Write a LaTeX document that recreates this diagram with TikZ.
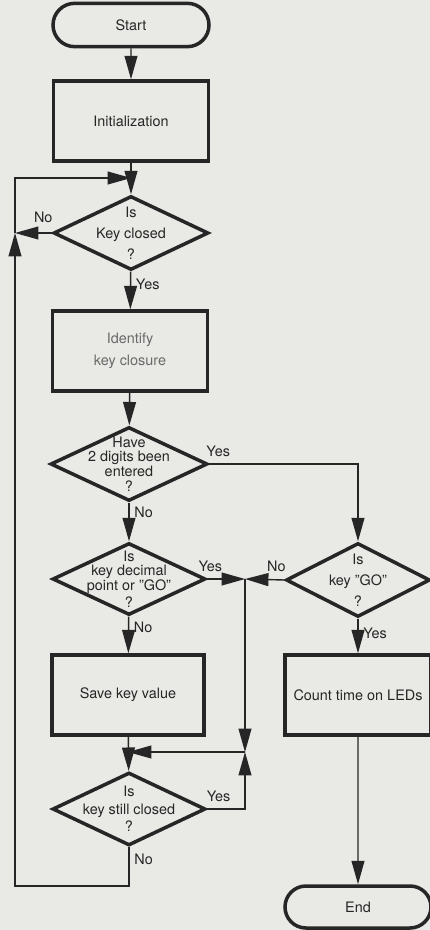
\documentclass[tikz,border=0pt]{standalone}
\usepackage{fontspec}
\setmainfont{TeX Gyre Heros}
\definecolor{paper}{RGB}{233,233,230}
\definecolor{ink}{RGB}{38,38,38}
\definecolor{faded}{RGB}{105,105,105}
\usetikzlibrary{shapes,arrows.meta,positioning,calc}

\tikzset{
  terminal/.style={rounded rectangle, draw, line width=3pt, minimum width=4.68cm, minimum height=1.3cm, inner sep=0pt},
  process/.style={rectangle, draw, line width=3pt, minimum width=4.65cm, minimum height=2.4cm, align=center, inner sep=0pt},
  decision/.style={diamond, draw, line width=3pt, minimum width=4.65cm, minimum height=2.22cm, inner sep=0pt},
  qtext/.style={align=center, text=ink, font=\fontsize{12.3}{18}\selectfont},
  qtight/.style={qtext, font=\fontsize{12.3}{12.5}\selectfont},
  flow/.style={line width=1.2pt, -{Triangle[length=20pt,width=11pt]}},
  tag/.style={inner sep=4pt}
}

\begin{document}
\begin{tikzpicture}[x=0.03cm, y=-0.03cm, color=ink, font=\fontsize{12.3}{18}\selectfont]
  \fill[paper] (0,0) rectangle (430,930);
  \useasboundingbox (0,0) rectangle (430,930);

  % left column
  \node[terminal] (start) at (131,25) {Start};
  \node[process] (init) at (131,121) {Initialization};
  \node[decision, label={[qtext]center:{Is\\Key closed\\?}}] (closed) at (131,233) {};
  \node[process, text=faded, font=\fontsize{12.3}{19}\selectfont] (ident) at (130,351) {Identify\\key closure};
  \node[decision, minimum width=4.71cm, label={[qtight]center:{Have\\2 digits been\\entered\\?}}] (digits) at (129,464) {};
  \node[decision, minimum width=4.59cm, minimum height=2.16cm, label={[qtight]center:{Is\\key decimal\\point or ''GO''\\[2pt]?}}] (decimal) at (129,579) {};
  \node[process, minimum width=4.56cm] (save) at (128,695) {Save key value};
  \node[decision, minimum width=4.59cm, minimum height=2.19cm, label={[qtext, font=\fontsize{12.3}{15}\selectfont]center:{Is\\key still closed\\?}}] (still) at (129,809) {};

  % right column
  \node[decision, minimum width=4.32cm, label={[qtext]center:{Is\\key ''GO''\\?}}] (go) at (358,580) {};
  \node[process, minimum width=4.38cm] (led) at (358,695) {Count time on LEDs};
  \node[terminal, minimum width=4.38cm, minimum height=1.26cm] (end) at (358,907) {End};

  \coordinate (loopL) at (15,233);
  \coordinate (loopT) at (15,178);
  \coordinate (loopB) at (15,886);
  \coordinate (merge) at (245,579);
  \coordinate (join) at (245,752);

  % connectors
  \draw[flow] (start) -- (init);
  \draw[flow] (init) -- (closed);
  \draw[flow] (loopL) -- (loopT) -- (closed.north |- loopT);
  \draw[flow] (closed.west) -- node[tag, above, pos=0.23, yshift=4pt]{No} (loopL);
  \draw[flow] (closed) -- node[tag, right, pos=0.35]{Yes} (ident);
  \draw[flow] (ident) -- (digits);
  \draw[flow] (digits.east) -| node[tag, above, pos=0.03, yshift=2pt]{Yes} (go.north);
  \draw[flow] (digits) -- node[tag, right, pos=0.25]{No} (decimal);
  \draw[flow] (decimal) -- node[tag, right, pos=0.3]{No} (save);
  \draw[flow] (decimal.east) -- node[tag, above, pos=0.08, yshift=2pt]{Yes} (merge);
  \draw[flow] (go.west) -- node[tag, above, pos=0.2, yshift=2pt]{No} (merge);
  \draw[flow] (merge) -- (join);
  \draw[flow] (join) -- (save.south |- join);
  \draw[flow] (save) -- (still);
  \draw[flow] (still.east) -| node[tag, above, pos=0.15, yshift=2pt]{Yes} (join);
  \draw[flow] (go) -- node[tag, right, pos=0.42]{Yes} (led);
  \draw[flow] (led) -- (end);
  \draw[flow] (still.south) -- node[tag, right, pos=0.3]{No} (still.south |- loopB) -- (loopB) -- (loopL);
\end{tikzpicture}
\end{document}
